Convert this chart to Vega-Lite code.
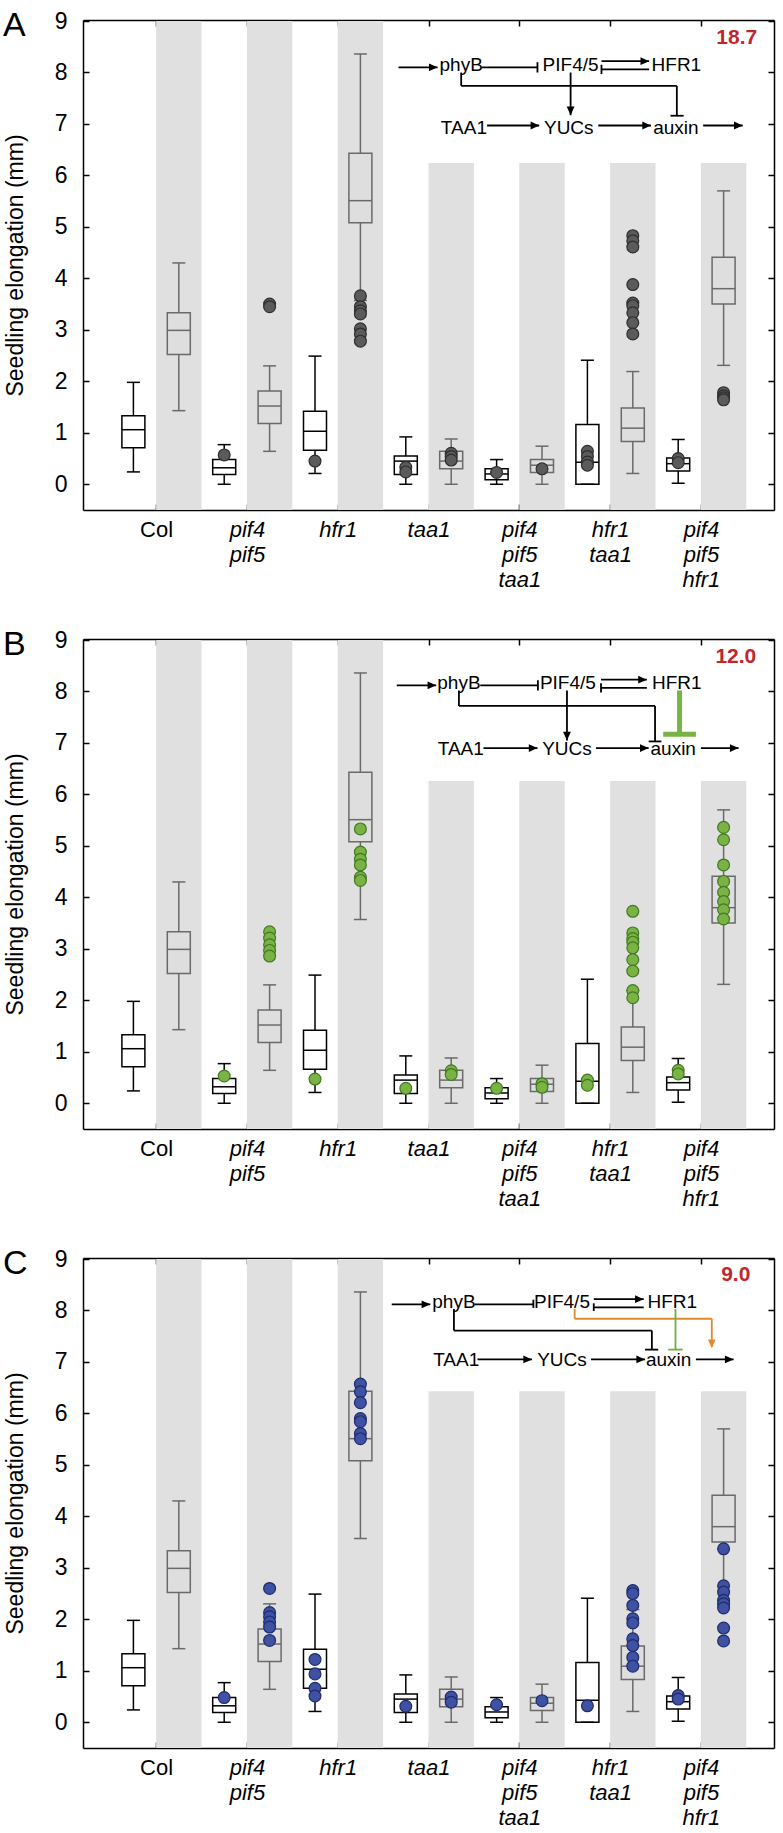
{
"$schema": "https://vega.github.io/schema/vega-lite/v6.json",
"background": "white",
"padding": {"left": 3, "top": 9, "right": 2, "bottom": 0},
"bounds": "flush",
"spacing": 129,
"config": {
 "font": "Liberation Sans",
 "view": {"stroke": null},
 "axis": {"grid": false, "domainColor": "#000", "domainWidth": 1.5, "tickColor": "#000", "tickWidth": 1.5, "labelColor": "#000", "titleColor": "#000", "labelFont": "Liberation Sans", "titleFont": "Liberation Sans", "zindex": 1},
 "tick": {"opacity": 1},
 "point": {"opacity": 1},
 "circle": {"opacity": 1}
},
"datasets": {
 "boxes": [
  {"pos":0.5,"cond":"W","lo":0.24,"q1":0.71,"med":1.06,"q3":1.33,"hi":1.98},
  {"pos":1.5,"cond":"S","lo":1.43,"q1":2.52,"med":2.99,"q3":3.33,"hi":4.30},
  {"pos":2.5,"cond":"W","lo":0.0,"q1":0.19,"med":0.32,"q3":0.48,"hi":0.77},
  {"pos":3.5,"cond":"S","lo":0.64,"q1":1.18,"med":1.52,"q3":1.81,"hi":2.30},
  {"pos":4.5,"cond":"W","lo":0.21,"q1":0.66,"med":1.03,"q3":1.42,"hi":2.49},
  {"pos":5.5,"cond":"S","lo":3.57,"q1":5.08,"med":5.51,"q3":6.43,"hi":8.36},
  {"pos":6.5,"cond":"W","lo":0.0,"q1":0.19,"med":0.45,"q3":0.55,"hi":0.92},
  {"pos":7.5,"cond":"S","lo":0.0,"q1":0.30,"med":0.45,"q3":0.64,"hi":0.88},
  {"pos":8.5,"cond":"W","lo":0.0,"q1":0.09,"med":0.20,"q3":0.30,"hi":0.48},
  {"pos":9.5,"cond":"S","lo":0.0,"q1":0.23,"med":0.37,"q3":0.48,"hi":0.74},
  {"pos":10.5,"cond":"W","lo":0.0,"q1":0.0,"med":0.43,"q3":1.16,"hi":2.41},
  {"pos":11.5,"cond":"S","lo":0.21,"q1":0.83,"med":1.09,"q3":1.48,"hi":2.19},
  {"pos":12.5,"cond":"W","lo":0.02,"q1":0.26,"med":0.40,"q3":0.51,"hi":0.87},
  {"pos":13.5,"cond":"S","lo":2.31,"q1":3.50,"med":3.80,"q3":4.41,"hi":5.70}
 ],
 "bands": [
  {"panel":"A","x1":1,"x2":2,"top":9.0},{"panel":"A","x1":3,"x2":4,"top":9.0},{"panel":"A","x1":5,"x2":6,"top":9.0},
  {"panel":"A","x1":7,"x2":8,"top":6.24},{"panel":"A","x1":9,"x2":10,"top":6.24},{"panel":"A","x1":11,"x2":12,"top":6.24},{"panel":"A","x1":13,"x2":14,"top":6.24},
  {"panel":"B","x1":1,"x2":2,"top":9.0},{"panel":"B","x1":3,"x2":4,"top":9.0},{"panel":"B","x1":5,"x2":6,"top":9.0},
  {"panel":"B","x1":7,"x2":8,"top":6.26},{"panel":"B","x1":9,"x2":10,"top":6.26},{"panel":"B","x1":11,"x2":12,"top":6.26},{"panel":"B","x1":13,"x2":14,"top":6.26},
  {"panel":"C","x1":1,"x2":2,"top":9.0},{"panel":"C","x1":3,"x2":4,"top":9.0},{"panel":"C","x1":5,"x2":6,"top":9.0},
  {"panel":"C","x1":7,"x2":8,"top":6.43},{"panel":"C","x1":9,"x2":10,"top":6.43},{"panel":"C","x1":11,"x2":12,"top":6.43},{"panel":"C","x1":13,"x2":14,"top":6.43}
 ],
 "pts": [
  {"panel":"A","pos":2.5,"v":0.57},
  {"panel":"A","pos":3.5,"v":3.5},{"panel":"A","pos":3.5,"v":3.45},
  {"panel":"A","pos":4.5,"v":0.45},
  {"panel":"A","pos":5.5,"v":3.66},{"panel":"A","pos":5.5,"v":3.45},{"panel":"A","pos":5.5,"v":3.37},{"panel":"A","pos":5.5,"v":3.31},{"panel":"A","pos":5.5,"v":3.02},{"panel":"A","pos":5.5,"v":2.92},{"panel":"A","pos":5.5,"v":2.78},
  {"panel":"A","pos":6.5,"v":0.33},{"panel":"A","pos":6.5,"v":0.24},
  {"panel":"A","pos":7.5,"v":0.6},{"panel":"A","pos":7.5,"v":0.54},{"panel":"A","pos":7.5,"v":0.47},
  {"panel":"A","pos":8.5,"v":0.23},
  {"panel":"A","pos":9.5,"v":0.3},
  {"panel":"A","pos":10.5,"v":0.64},{"panel":"A","pos":10.5,"v":0.54},{"panel":"A","pos":10.5,"v":0.43},{"panel":"A","pos":10.5,"v":0.37},
  {"panel":"A","pos":11.5,"v":4.83},{"panel":"A","pos":11.5,"v":4.73},{"panel":"A","pos":11.5,"v":4.61},{"panel":"A","pos":11.5,"v":3.88},{"panel":"A","pos":11.5,"v":3.52},{"panel":"A","pos":11.5,"v":3.47},{"panel":"A","pos":11.5,"v":3.33},{"panel":"A","pos":11.5,"v":3.14},{"panel":"A","pos":11.5,"v":2.92},
  {"panel":"A","pos":12.5,"v":0.5},{"panel":"A","pos":12.5,"v":0.42},
  {"panel":"A","pos":13.5,"v":1.78},{"panel":"A","pos":13.5,"v":1.72},{"panel":"A","pos":13.5,"v":1.68},{"panel":"A","pos":13.5,"v":1.64},
  {"panel":"B","pos":2.5,"v":0.53},
  {"panel":"B","pos":3.5,"v":3.33},{"panel":"B","pos":3.5,"v":3.21},{"panel":"B","pos":3.5,"v":3.08},{"panel":"B","pos":3.5,"v":2.97},{"panel":"B","pos":3.5,"v":2.86},
  {"panel":"B","pos":4.5,"v":0.47},
  {"panel":"B","pos":5.5,"v":5.33},{"panel":"B","pos":5.5,"v":4.88},{"panel":"B","pos":5.5,"v":4.74},{"panel":"B","pos":5.5,"v":4.63},{"panel":"B","pos":5.5,"v":4.39},{"panel":"B","pos":5.5,"v":4.33},
  {"panel":"B","pos":6.5,"v":0.29},
  {"panel":"B","pos":7.5,"v":0.63},{"panel":"B","pos":7.5,"v":0.56},
  {"panel":"B","pos":8.5,"v":0.29},
  {"panel":"B","pos":9.5,"v":0.38},{"panel":"B","pos":9.5,"v":0.31},
  {"panel":"B","pos":10.5,"v":0.45},{"panel":"B","pos":10.5,"v":0.35},
  {"panel":"B","pos":11.5,"v":3.73},{"panel":"B","pos":11.5,"v":3.31},{"panel":"B","pos":11.5,"v":3.2},{"panel":"B","pos":11.5,"v":3.13},{"panel":"B","pos":11.5,"v":3.02},{"panel":"B","pos":11.5,"v":2.79},{"panel":"B","pos":11.5,"v":2.57},{"panel":"B","pos":11.5,"v":2.19},{"panel":"B","pos":11.5,"v":2.05},
  {"panel":"B","pos":12.5,"v":0.64},{"panel":"B","pos":12.5,"v":0.57},
  {"panel":"B","pos":13.5,"v":5.36},{"panel":"B","pos":13.5,"v":5.12},{"panel":"B","pos":13.5,"v":4.63},{"panel":"B","pos":13.5,"v":4.31},{"panel":"B","pos":13.5,"v":4.1},{"panel":"B","pos":13.5,"v":3.92},{"panel":"B","pos":13.5,"v":3.76},{"panel":"B","pos":13.5,"v":3.58},
  {"panel":"C","pos":2.5,"v":0.48},
  {"panel":"C","pos":3.5,"v":2.6},{"panel":"C","pos":3.5,"v":2.13},{"panel":"C","pos":3.5,"v":2.05},{"panel":"C","pos":3.5,"v":1.95},{"panel":"C","pos":3.5,"v":1.85},{"panel":"C","pos":3.5,"v":1.59},
  {"panel":"C","pos":4.5,"v":1.22},{"panel":"C","pos":4.5,"v":0.94},{"panel":"C","pos":4.5,"v":0.66},{"panel":"C","pos":4.5,"v":0.51},
  {"panel":"C","pos":5.5,"v":6.57},{"panel":"C","pos":5.5,"v":6.42},{"panel":"C","pos":5.5,"v":6.21},{"panel":"C","pos":5.5,"v":5.9},{"panel":"C","pos":5.5,"v":5.84},{"panel":"C","pos":5.5,"v":5.61},{"panel":"C","pos":5.5,"v":5.51},
  {"panel":"C","pos":6.5,"v":0.31},
  {"panel":"C","pos":7.5,"v":0.49},{"panel":"C","pos":7.5,"v":0.39},
  {"panel":"C","pos":8.5,"v":0.34},
  {"panel":"C","pos":9.5,"v":0.42},
  {"panel":"C","pos":10.5,"v":0.32},
  {"panel":"C","pos":11.5,"v":2.56},{"panel":"C","pos":11.5,"v":2.5},{"panel":"C","pos":11.5,"v":2.27},{"panel":"C","pos":11.5,"v":2.01},{"panel":"C","pos":11.5,"v":1.93},{"panel":"C","pos":11.5,"v":1.62},{"panel":"C","pos":11.5,"v":1.49},{"panel":"C","pos":11.5,"v":1.26},{"panel":"C","pos":11.5,"v":1.09},
  {"panel":"C","pos":12.5,"v":0.52},{"panel":"C","pos":12.5,"v":0.45},
  {"panel":"C","pos":13.5,"v":3.37},{"panel":"C","pos":13.5,"v":2.65},{"panel":"C","pos":13.5,"v":2.53},{"panel":"C","pos":13.5,"v":2.37},{"panel":"C","pos":13.5,"v":2.3},{"panel":"C","pos":13.5,"v":2.22},{"panel":"C","pos":13.5,"v":1.83},{"panel":"C","pos":13.5,"v":1.58}
 ],
 "segs": [
  {"panel":"A","kind":"k","x":6.34,"y":8.10,"x2":7.20,"y2":8.10},
  {"panel":"A","kind":"k","x":8.18,"y":8.10,"x2":9.40,"y2":8.10},
  {"panel":"A","kind":"k","x":9.40,"y":8.20,"x2":9.40,"y2":8.00},
  {"panel":"A","kind":"k","x":10.81,"y":8.22,"x2":11.86,"y2":8.22},
  {"panel":"A","kind":"k","x":10.81,"y":8.06,"x2":11.86,"y2":8.06},
  {"panel":"A","kind":"k","x":10.81,"y":8.15,"x2":10.81,"y2":7.97},
  {"panel":"A","kind":"k","x":7.72,"y":8.00,"x2":7.72,"y2":7.74},
  {"panel":"A","kind":"k","x":7.72,"y":7.74,"x2":12.47,"y2":7.74},
  {"panel":"A","kind":"k","x":12.47,"y":7.74,"x2":12.47,"y2":7.16},
  {"panel":"A","kind":"k","x":12.33,"y":7.16,"x2":12.62,"y2":7.16},
  {"panel":"A","kind":"k","x":10.13,"y":8.00,"x2":10.13,"y2":7.17},
  {"panel":"A","kind":"k","x":8.29,"y":6.97,"x2":9.44,"y2":6.97},
  {"panel":"A","kind":"k","x":10.74,"y":6.97,"x2":11.90,"y2":6.97},
  {"panel":"A","kind":"k","x":13.05,"y":6.97,"x2":13.92,"y2":6.97},
  {"panel":"B","kind":"k","x":6.30,"y":8.12,"x2":7.17,"y2":8.12},
  {"panel":"B","kind":"k","x":8.14,"y":8.12,"x2":9.41,"y2":8.12},
  {"panel":"B","kind":"k","x":9.41,"y":8.22,"x2":9.41,"y2":8.02},
  {"panel":"B","kind":"k","x":10.80,"y":8.23,"x2":11.81,"y2":8.23},
  {"panel":"B","kind":"k","x":10.80,"y":8.07,"x2":11.81,"y2":8.07},
  {"panel":"B","kind":"k","x":10.80,"y":8.16,"x2":10.80,"y2":7.98},
  {"panel":"B","kind":"k","x":7.67,"y":8.02,"x2":7.67,"y2":7.72},
  {"panel":"B","kind":"k","x":7.67,"y":7.72,"x2":11.99,"y2":7.72},
  {"panel":"B","kind":"k","x":11.99,"y":7.72,"x2":11.99,"y2":7.03},
  {"panel":"B","kind":"k","x":11.85,"y":7.03,"x2":12.13,"y2":7.03},
  {"panel":"B","kind":"k","x":10.05,"y":8.02,"x2":10.05,"y2":7.05},
  {"panel":"B","kind":"k","x":8.21,"y":6.90,"x2":9.40,"y2":6.90},
  {"panel":"B","kind":"k","x":10.69,"y":6.90,"x2":11.85,"y2":6.90},
  {"panel":"B","kind":"k","x":13.00,"y":6.90,"x2":13.83,"y2":6.90},
  {"panel":"B","kind":"gt","x":12.53,"y":8.02,"x2":12.53,"y2":7.17},
  {"panel":"B","kind":"gt","x":12.17,"y":7.17,"x2":12.89,"y2":7.17},
  {"panel":"C","kind":"k","x":6.19,"y":8.12,"x2":7.04,"y2":8.12},
  {"panel":"C","kind":"k","x":8.01,"y":8.12,"x2":9.31,"y2":8.12},
  {"panel":"C","kind":"k","x":9.31,"y":8.21,"x2":9.31,"y2":8.05},
  {"panel":"C","kind":"k","x":10.64,"y":8.22,"x2":11.74,"y2":8.22},
  {"panel":"C","kind":"k","x":10.64,"y":8.06,"x2":11.74,"y2":8.06},
  {"panel":"C","kind":"k","x":10.64,"y":8.14,"x2":10.64,"y2":7.99},
  {"panel":"C","kind":"k","x":7.56,"y":8.03,"x2":7.56,"y2":7.61},
  {"panel":"C","kind":"k","x":7.56,"y":7.61,"x2":11.92,"y2":7.61},
  {"panel":"C","kind":"k","x":11.92,"y":7.61,"x2":11.92,"y2":7.24},
  {"panel":"C","kind":"k","x":11.77,"y":7.24,"x2":12.06,"y2":7.24},
  {"panel":"C","kind":"k","x":8.08,"y":7.05,"x2":9.28,"y2":7.05},
  {"panel":"C","kind":"k","x":10.58,"y":7.05,"x2":11.77,"y2":7.05},
  {"panel":"C","kind":"k","x":12.89,"y":7.05,"x2":13.72,"y2":7.05},
  {"panel":"C","kind":"o","x":10.22,"y":8.03,"x2":10.22,"y2":7.84},
  {"panel":"C","kind":"o","x":10.22,"y":7.84,"x2":13.24,"y2":7.84},
  {"panel":"C","kind":"o","x":13.24,"y":7.84,"x2":13.24,"y2":7.29},
  {"panel":"C","kind":"g","x":12.44,"y":8.03,"x2":12.44,"y2":7.24},
  {"panel":"C","kind":"g","x":12.28,"y":7.24,"x2":12.60,"y2":7.24}
 ],
 "heads": [
  {"panel":"A","kind":"k","dir":"r","x":7.20,"y":8.10},
  {"panel":"A","kind":"k","dir":"r","x":11.86,"y":8.22},
  {"panel":"A","kind":"k","dir":"r","x":9.44,"y":6.97},
  {"panel":"A","kind":"k","dir":"r","x":11.90,"y":6.97},
  {"panel":"A","kind":"k","dir":"r","x":13.92,"y":6.97},
  {"panel":"A","kind":"k","dir":"d","x":10.13,"y":7.17},
  {"panel":"B","kind":"k","dir":"r","x":7.17,"y":8.12},
  {"panel":"B","kind":"k","dir":"r","x":11.81,"y":8.23},
  {"panel":"B","kind":"k","dir":"r","x":9.40,"y":6.90},
  {"panel":"B","kind":"k","dir":"r","x":11.85,"y":6.90},
  {"panel":"B","kind":"k","dir":"r","x":13.83,"y":6.90},
  {"panel":"B","kind":"k","dir":"d","x":10.05,"y":7.05},
  {"panel":"C","kind":"k","dir":"r","x":7.04,"y":8.12},
  {"panel":"C","kind":"k","dir":"r","x":11.74,"y":8.22},
  {"panel":"C","kind":"k","dir":"r","x":9.28,"y":7.05},
  {"panel":"C","kind":"k","dir":"r","x":11.77,"y":7.05},
  {"panel":"C","kind":"k","dir":"r","x":13.72,"y":7.05},
  {"panel":"C","kind":"o","dir":"d","x":13.24,"y":7.27}
 ],
 "texts": [
  {"panel":"A","label":"phyB","x":7.72,"y":8.03},
  {"panel":"A","label":"PIF4/5","x":10.13,"y":8.03},
  {"panel":"A","label":"HFR1","x":12.46,"y":8.03},
  {"panel":"A","label":"TAA1","x":7.78,"y":6.81},
  {"panel":"A","label":"YUCs","x":10.09,"y":6.81},
  {"panel":"A","label":"auxin","x":12.45,"y":6.81},
  {"panel":"B","label":"phyB","x":7.67,"y":8.04},
  {"panel":"B","label":"PIF4/5","x":10.07,"y":8.04},
  {"panel":"B","label":"HFR1","x":12.47,"y":8.04},
  {"panel":"B","label":"TAA1","x":7.71,"y":6.76},
  {"panel":"B","label":"YUCs","x":10.05,"y":6.76},
  {"panel":"B","label":"auxin","x":12.39,"y":6.76},
  {"panel":"C","label":"phyB","x":7.56,"y":8.05},
  {"panel":"C","label":"PIF4/5","x":9.94,"y":8.05},
  {"panel":"C","label":"HFR1","x":12.37,"y":8.05},
  {"panel":"C","label":"TAA1","x":7.61,"y":6.93},
  {"panel":"C","label":"YUCs","x":9.94,"y":6.93},
  {"panel":"C","label":"auxin","x":12.29,"y":6.93}
 ]
},
"vconcat": [
 {
  "width": 691, "height": 490,
  "resolve": {"axis": {"x": "independent", "y": "independent"}, "scale": {"color": "independent", "fill": "independent", "stroke": "independent"}},
  "layer": [
   {"data": {"name": "bands"}, "transform": [{"filter": "datum.panel=='A'"}],
    "mark": {"type": "rect", "fill": "#e0e0e0"},
    "encoding": {
     "x": {"field": "x1", "type": "quantitative", "scale": {"domain": [-0.5, 14.5], "nice": false, "zero": false},
       "axis": {"orient": "bottom", "values": [1,3,5,7,9,11,13], "labelExpr": "datum.value == 1 ? 'Col' : datum.value == 3 ? ['pif4', 'pif5'] : datum.value == 5 ? 'hfr1' : datum.value == 7 ? 'taa1' : datum.value == 9 ? ['pif4', 'pif5', 'taa1'] : datum.value == 11 ? ['hfr1', 'taa1'] : ['pif4', 'pif5', 'hfr1']",
        "labelFontSize": 22, "labelFontStyle": {"condition": {"test": "datum.value == 1", "value": "normal"}, "value": "italic"}, "labelBaseline": "top", "labelLineHeight": 25, "labelPadding": 15, "labelOverlap": false, "labelFlush": false, "labelBound": false, "tickSize": -6, "domain": true, "title": null}},
     "x2": {"field": "x2"},
     "y": {"field": "top", "type": "quantitative", "scale": {"domain": [-0.5, 9.02], "nice": false, "zero": false},
       "axis": {"orient": "left", "values": [0,1,2,3,4,5,6,7,8,9], "format": "d", "labelFontSize": 23, "labelPadding": 22, "tickSize": -6, "domain": true, "title": "Seedling elongation (mm)", "titleFontSize": 23, "titleFontWeight": "normal", "titlePadding": 27, "labelFlush": false, "labelOverlap": false}},
     "y2": {"datum": -0.5}
    }},
   {"data": {"name": "boxes"}, "mark": {"type": "rule", "strokeWidth": 1.5},
    "encoding": {"x": {"field": "pos", "type": "quantitative", "scale": {"domain": [-0.5, 14.5]}, "axis": null},
     "y": {"field": "lo", "type": "quantitative", "scale": {"domain": [-0.5, 9.02]}, "axis": null}, "y2": {"field": "hi"},
     "color": {"field": "cond", "type": "nominal", "scale": {"domain": ["W","S"], "range": ["#000000","#6a6a6a"]}, "legend": null}}},
   {"data": {"name": "boxes"}, "mark": {"type": "bar", "size": 23, "strokeWidth": 1.5},
    "encoding": {"x": {"field": "pos", "type": "quantitative", "scale": {"domain": [-0.5, 14.5]}, "axis": null},
     "y": {"field": "q1", "type": "quantitative", "scale": {"domain": [-0.5, 9.02]}, "axis": null}, "y2": {"field": "q3"},
     "fill": {"field": "cond", "type": "nominal", "scale": {"domain": ["W","S"], "range": ["#ffffff","#dedede"]}, "legend": null},
     "stroke": {"field": "cond", "type": "nominal", "scale": {"domain": ["W","S"], "range": ["#000000","#6a6a6a"]}, "legend": null}}},
   {"data": {"name": "boxes"}, "mark": {"type": "tick", "orient": "horizontal", "size": 23, "thickness": 1.5, "opacity": 1},
    "encoding": {"x": {"field": "pos", "type": "quantitative", "scale": {"domain": [-0.5, 14.5]}, "axis": null},
     "y": {"field": "med", "type": "quantitative", "scale": {"domain": [-0.5, 9.02]}, "axis": null},
     "color": {"field": "cond", "type": "nominal", "scale": {"domain": ["W","S"], "range": ["#000000","#6a6a6a"]}, "legend": null}}},
   {"data": {"name": "boxes"}, "mark": {"type": "tick", "orient": "horizontal", "size": 13, "thickness": 1.5, "opacity": 1},
    "encoding": {"x": {"field": "pos", "type": "quantitative", "scale": {"domain": [-0.5, 14.5]}, "axis": null},
     "y": {"field": "lo", "type": "quantitative", "scale": {"domain": [-0.5, 9.02]}, "axis": null},
     "color": {"field": "cond", "type": "nominal", "scale": {"domain": ["W","S"], "range": ["#000000","#6a6a6a"]}, "legend": null}}},
   {"data": {"name": "boxes"}, "mark": {"type": "tick", "orient": "horizontal", "size": 13, "thickness": 1.5, "opacity": 1},
    "encoding": {"x": {"field": "pos", "type": "quantitative", "scale": {"domain": [-0.5, 14.5]}, "axis": null},
     "y": {"field": "hi", "type": "quantitative", "scale": {"domain": [-0.5, 9.02]}, "axis": null},
     "color": {"field": "cond", "type": "nominal", "scale": {"domain": ["W","S"], "range": ["#000000","#6a6a6a"]}, "legend": null}}},
   {"data": {"name": "pts"}, "transform": [{"filter": "datum.panel=='A'"}],
    "mark": {"type": "circle", "size": 140, "fill": "#5b5b5b", "stroke": "#2e2e2e", "strokeWidth": 1.2, "opacity": 1},
    "encoding": {"x": {"field": "pos", "type": "quantitative", "scale": {"domain": [-0.5, 14.5]}, "axis": null},
     "y": {"field": "v", "type": "quantitative", "scale": {"domain": [-0.5, 9.02]}, "axis": null}}},
   {"data": {"name": "segs"}, "transform": [{"filter": "datum.panel=='A' && datum.kind != 'gt'"}],
    "mark": {"type": "rule", "strokeWidth": 1.8},
    "encoding": {"x": {"field": "x", "type": "quantitative", "scale": {"domain": [-0.5, 14.5]},
       "axis": {"orient": "top", "values": [1,3,5,7,9,11,13], "labels": false, "tickSize": -6, "domain": true, "title": null}},
     "x2": {"field": "x2"},
     "y": {"field": "y", "type": "quantitative", "scale": {"domain": [-0.5, 9.02]},
       "axis": {"orient": "right", "values": [0,1,2,3,4,5,6,7,8,9], "labels": false, "tickSize": -6, "domain": true, "title": null}},
     "y2": {"field": "y2"},
     "color": {"field": "kind", "type": "nominal", "scale": {"domain": ["k","o","g"], "range": ["#000000","#e08a2b","#6cb13a"]}, "legend": null}}},
   {"data": {"name": "heads"}, "transform": [{"filter": "datum.panel=='A' && datum.dir=='r'"}],
    "mark": {"type": "point", "shape": "M-1,-0.45L0,0L-1,0.45Z", "filled": true, "size": 300, "opacity": 1},
    "encoding": {"x": {"field": "x", "type": "quantitative", "scale": {"domain": [-0.5, 14.5]}, "axis": null},
     "y": {"field": "y", "type": "quantitative", "scale": {"domain": [-0.5, 9.02]}, "axis": null},
     "color": {"field": "kind", "type": "nominal", "scale": {"domain": ["k","o","g"], "range": ["#000000","#e08a2b","#6cb13a"]}, "legend": null}}},
   {"data": {"name": "heads"}, "transform": [{"filter": "datum.panel=='A' && datum.dir=='d'"}],
    "mark": {"type": "point", "shape": "M-0.45,-1L0,0L0.45,-1Z", "filled": true, "size": 300, "opacity": 1},
    "encoding": {"x": {"field": "x", "type": "quantitative", "scale": {"domain": [-0.5, 14.5]}, "axis": null},
     "y": {"field": "y", "type": "quantitative", "scale": {"domain": [-0.5, 9.02]}, "axis": null},
     "color": {"field": "kind", "type": "nominal", "scale": {"domain": ["k","o","g"], "range": ["#000000","#e08a2b","#6cb13a"]}, "legend": null}}},
   {"data": {"name": "texts"}, "transform": [{"filter": "datum.panel=='A'"}],
    "mark": {"type": "text", "fontSize": 19, "align": "center", "baseline": "alphabetic", "color": "#000"},
    "encoding": {"x": {"field": "x", "type": "quantitative", "scale": {"domain": [-0.5, 14.5]}, "axis": null},
     "y": {"field": "y", "type": "quantitative", "scale": {"domain": [-0.5, 9.02]}, "axis": null},
     "text": {"field": "label"}}},
   {"data": {"values": [{}]},
    "mark": {"type": "text", "fontSize": 21, "fontWeight": "bold", "align": "right", "baseline": "alphabetic", "color": "#c0272d"},
    "encoding": {"x": {"datum": 14.24, "type": "quantitative", "scale": {"domain": [-0.5, 14.5]}, "axis": null},
     "y": {"datum": 8.55, "type": "quantitative", "scale": {"domain": [-0.5, 9.02]}, "axis": null},
     "text": {"value": "18.7"}}},
   {"data": {"values": [{}]},
    "mark": {"type": "text", "fontSize": 34, "align": "left", "baseline": "alphabetic", "color": "#000"},
    "encoding": {"x": {"datum": -2.37, "type": "quantitative", "scale": {"domain": [-0.5, 14.5]}, "axis": null},
     "y": {"datum": 8.70, "type": "quantitative", "scale": {"domain": [-0.5, 9.02]}, "axis": null},
     "text": {"value": "A"}}}
  ]
 },
 {
  "width": 691, "height": 490,
  "resolve": {"axis": {"x": "independent", "y": "independent"}, "scale": {"color": "independent", "fill": "independent", "stroke": "independent"}},
  "layer": [
   {"data": {"name": "bands"}, "transform": [{"filter": "datum.panel=='B'"}],
    "mark": {"type": "rect", "fill": "#e0e0e0"},
    "encoding": {
     "x": {"field": "x1", "type": "quantitative", "scale": {"domain": [-0.5, 14.5], "nice": false, "zero": false},
       "axis": {"orient": "bottom", "values": [1,3,5,7,9,11,13], "labelExpr": "datum.value == 1 ? 'Col' : datum.value == 3 ? ['pif4', 'pif5'] : datum.value == 5 ? 'hfr1' : datum.value == 7 ? 'taa1' : datum.value == 9 ? ['pif4', 'pif5', 'taa1'] : datum.value == 11 ? ['hfr1', 'taa1'] : ['pif4', 'pif5', 'hfr1']",
        "labelFontSize": 22, "labelFontStyle": {"condition": {"test": "datum.value == 1", "value": "normal"}, "value": "italic"}, "labelBaseline": "top", "labelLineHeight": 25, "labelPadding": 15, "labelOverlap": false, "labelFlush": false, "labelBound": false, "tickSize": -6, "domain": true, "title": null}},
     "x2": {"field": "x2"},
     "y": {"field": "top", "type": "quantitative", "scale": {"domain": [-0.5, 9.02], "nice": false, "zero": false},
       "axis": {"orient": "left", "values": [0,1,2,3,4,5,6,7,8,9], "format": "d", "labelFontSize": 23, "labelPadding": 22, "tickSize": -6, "domain": true, "title": "Seedling elongation (mm)", "titleFontSize": 23, "titleFontWeight": "normal", "titlePadding": 27, "labelFlush": false, "labelOverlap": false}},
     "y2": {"datum": -0.5}
    }},
   {"data": {"name": "boxes"}, "mark": {"type": "rule", "strokeWidth": 1.5},
    "encoding": {"x": {"field": "pos", "type": "quantitative", "scale": {"domain": [-0.5, 14.5]}, "axis": null},
     "y": {"field": "lo", "type": "quantitative", "scale": {"domain": [-0.5, 9.02]}, "axis": null}, "y2": {"field": "hi"},
     "color": {"field": "cond", "type": "nominal", "scale": {"domain": ["W","S"], "range": ["#000000","#6a6a6a"]}, "legend": null}}},
   {"data": {"name": "boxes"}, "mark": {"type": "bar", "size": 23, "strokeWidth": 1.5},
    "encoding": {"x": {"field": "pos", "type": "quantitative", "scale": {"domain": [-0.5, 14.5]}, "axis": null},
     "y": {"field": "q1", "type": "quantitative", "scale": {"domain": [-0.5, 9.02]}, "axis": null}, "y2": {"field": "q3"},
     "fill": {"field": "cond", "type": "nominal", "scale": {"domain": ["W","S"], "range": ["#ffffff","#dedede"]}, "legend": null},
     "stroke": {"field": "cond", "type": "nominal", "scale": {"domain": ["W","S"], "range": ["#000000","#6a6a6a"]}, "legend": null}}},
   {"data": {"name": "boxes"}, "mark": {"type": "tick", "orient": "horizontal", "size": 23, "thickness": 1.5, "opacity": 1},
    "encoding": {"x": {"field": "pos", "type": "quantitative", "scale": {"domain": [-0.5, 14.5]}, "axis": null},
     "y": {"field": "med", "type": "quantitative", "scale": {"domain": [-0.5, 9.02]}, "axis": null},
     "color": {"field": "cond", "type": "nominal", "scale": {"domain": ["W","S"], "range": ["#000000","#6a6a6a"]}, "legend": null}}},
   {"data": {"name": "boxes"}, "mark": {"type": "tick", "orient": "horizontal", "size": 13, "thickness": 1.5, "opacity": 1},
    "encoding": {"x": {"field": "pos", "type": "quantitative", "scale": {"domain": [-0.5, 14.5]}, "axis": null},
     "y": {"field": "lo", "type": "quantitative", "scale": {"domain": [-0.5, 9.02]}, "axis": null},
     "color": {"field": "cond", "type": "nominal", "scale": {"domain": ["W","S"], "range": ["#000000","#6a6a6a"]}, "legend": null}}},
   {"data": {"name": "boxes"}, "mark": {"type": "tick", "orient": "horizontal", "size": 13, "thickness": 1.5, "opacity": 1},
    "encoding": {"x": {"field": "pos", "type": "quantitative", "scale": {"domain": [-0.5, 14.5]}, "axis": null},
     "y": {"field": "hi", "type": "quantitative", "scale": {"domain": [-0.5, 9.02]}, "axis": null},
     "color": {"field": "cond", "type": "nominal", "scale": {"domain": ["W","S"], "range": ["#000000","#6a6a6a"]}, "legend": null}}},
   {"data": {"name": "pts"}, "transform": [{"filter": "datum.panel=='B'"}],
    "mark": {"type": "circle", "size": 140, "fill": "#7ab344", "stroke": "#3f7a22", "strokeWidth": 1.2, "opacity": 1},
    "encoding": {"x": {"field": "pos", "type": "quantitative", "scale": {"domain": [-0.5, 14.5]}, "axis": null},
     "y": {"field": "v", "type": "quantitative", "scale": {"domain": [-0.5, 9.02]}, "axis": null}}},
   {"data": {"name": "segs"}, "transform": [{"filter": "datum.panel=='B' && datum.kind != 'gt'"}],
    "mark": {"type": "rule", "strokeWidth": 1.8},
    "encoding": {"x": {"field": "x", "type": "quantitative", "scale": {"domain": [-0.5, 14.5]},
       "axis": {"orient": "top", "values": [1,3,5,7,9,11,13], "labels": false, "tickSize": -6, "domain": true, "title": null}},
     "x2": {"field": "x2"},
     "y": {"field": "y", "type": "quantitative", "scale": {"domain": [-0.5, 9.02]},
       "axis": {"orient": "right", "values": [0,1,2,3,4,5,6,7,8,9], "labels": false, "tickSize": -6, "domain": true, "title": null}},
     "y2": {"field": "y2"},
     "color": {"field": "kind", "type": "nominal", "scale": {"domain": ["k","o","g"], "range": ["#000000","#e08a2b","#6cb13a"]}, "legend": null}}},
   {"data": {"name": "segs"}, "transform": [{"filter": "datum.panel=='B' && datum.kind == 'gt'"}],
    "mark": {"type": "rule", "strokeWidth": 5, "color": "#77b443"},
    "encoding": {"x": {"field": "x", "type": "quantitative", "scale": {"domain": [-0.5, 14.5]}, "axis": null},
     "x2": {"field": "x2"},
     "y": {"field": "y", "type": "quantitative", "scale": {"domain": [-0.5, 9.02]}, "axis": null},
     "y2": {"field": "y2"}}},
   {"data": {"name": "heads"}, "transform": [{"filter": "datum.panel=='B' && datum.dir=='r'"}],
    "mark": {"type": "point", "shape": "M-1,-0.45L0,0L-1,0.45Z", "filled": true, "size": 300, "opacity": 1},
    "encoding": {"x": {"field": "x", "type": "quantitative", "scale": {"domain": [-0.5, 14.5]}, "axis": null},
     "y": {"field": "y", "type": "quantitative", "scale": {"domain": [-0.5, 9.02]}, "axis": null},
     "color": {"field": "kind", "type": "nominal", "scale": {"domain": ["k","o","g"], "range": ["#000000","#e08a2b","#6cb13a"]}, "legend": null}}},
   {"data": {"name": "heads"}, "transform": [{"filter": "datum.panel=='B' && datum.dir=='d'"}],
    "mark": {"type": "point", "shape": "M-0.45,-1L0,0L0.45,-1Z", "filled": true, "size": 300, "opacity": 1},
    "encoding": {"x": {"field": "x", "type": "quantitative", "scale": {"domain": [-0.5, 14.5]}, "axis": null},
     "y": {"field": "y", "type": "quantitative", "scale": {"domain": [-0.5, 9.02]}, "axis": null},
     "color": {"field": "kind", "type": "nominal", "scale": {"domain": ["k","o","g"], "range": ["#000000","#e08a2b","#6cb13a"]}, "legend": null}}},
   {"data": {"name": "texts"}, "transform": [{"filter": "datum.panel=='B'"}],
    "mark": {"type": "text", "fontSize": 19, "align": "center", "baseline": "alphabetic", "color": "#000"},
    "encoding": {"x": {"field": "x", "type": "quantitative", "scale": {"domain": [-0.5, 14.5]}, "axis": null},
     "y": {"field": "y", "type": "quantitative", "scale": {"domain": [-0.5, 9.02]}, "axis": null},
     "text": {"field": "label"}}},
   {"data": {"values": [{}]},
    "mark": {"type": "text", "fontSize": 21, "fontWeight": "bold", "align": "right", "baseline": "alphabetic", "color": "#c0272d"},
    "encoding": {"x": {"datum": 14.22, "type": "quantitative", "scale": {"domain": [-0.5, 14.5]}, "axis": null},
     "y": {"datum": 8.56, "type": "quantitative", "scale": {"domain": [-0.5, 9.02]}, "axis": null},
     "text": {"value": "12.0"}}},
   {"data": {"values": [{}]},
    "mark": {"type": "text", "fontSize": 34, "align": "left", "baseline": "alphabetic", "color": "#000"},
    "encoding": {"x": {"datum": -2.37, "type": "quantitative", "scale": {"domain": [-0.5, 14.5]}, "axis": null},
     "y": {"datum": 8.70, "type": "quantitative", "scale": {"domain": [-0.5, 9.02]}, "axis": null},
     "text": {"value": "B"}}}
  ]
 },
 {
  "width": 691, "height": 490,
  "resolve": {"axis": {"x": "independent", "y": "independent"}, "scale": {"color": "independent", "fill": "independent", "stroke": "independent"}},
  "layer": [
   {"data": {"name": "bands"}, "transform": [{"filter": "datum.panel=='C'"}],
    "mark": {"type": "rect", "fill": "#e0e0e0"},
    "encoding": {
     "x": {"field": "x1", "type": "quantitative", "scale": {"domain": [-0.5, 14.5], "nice": false, "zero": false},
       "axis": {"orient": "bottom", "values": [1,3,5,7,9,11,13], "labelExpr": "datum.value == 1 ? 'Col' : datum.value == 3 ? ['pif4', 'pif5'] : datum.value == 5 ? 'hfr1' : datum.value == 7 ? 'taa1' : datum.value == 9 ? ['pif4', 'pif5', 'taa1'] : datum.value == 11 ? ['hfr1', 'taa1'] : ['pif4', 'pif5', 'hfr1']",
        "labelFontSize": 22, "labelFontStyle": {"condition": {"test": "datum.value == 1", "value": "normal"}, "value": "italic"}, "labelBaseline": "top", "labelLineHeight": 25, "labelPadding": 15, "labelOverlap": false, "labelFlush": false, "labelBound": false, "tickSize": -6, "domain": true, "title": null}},
     "x2": {"field": "x2"},
     "y": {"field": "top", "type": "quantitative", "scale": {"domain": [-0.5, 9.02], "nice": false, "zero": false},
       "axis": {"orient": "left", "values": [0,1,2,3,4,5,6,7,8,9], "format": "d", "labelFontSize": 23, "labelPadding": 22, "tickSize": -6, "domain": true, "title": "Seedling elongation (mm)", "titleFontSize": 23, "titleFontWeight": "normal", "titlePadding": 27, "labelFlush": false, "labelOverlap": false}},
     "y2": {"datum": -0.5}
    }},
   {"data": {"name": "boxes"}, "mark": {"type": "rule", "strokeWidth": 1.5},
    "encoding": {"x": {"field": "pos", "type": "quantitative", "scale": {"domain": [-0.5, 14.5]}, "axis": null},
     "y": {"field": "lo", "type": "quantitative", "scale": {"domain": [-0.5, 9.02]}, "axis": null}, "y2": {"field": "hi"},
     "color": {"field": "cond", "type": "nominal", "scale": {"domain": ["W","S"], "range": ["#000000","#6a6a6a"]}, "legend": null}}},
   {"data": {"name": "boxes"}, "mark": {"type": "bar", "size": 23, "strokeWidth": 1.5},
    "encoding": {"x": {"field": "pos", "type": "quantitative", "scale": {"domain": [-0.5, 14.5]}, "axis": null},
     "y": {"field": "q1", "type": "quantitative", "scale": {"domain": [-0.5, 9.02]}, "axis": null}, "y2": {"field": "q3"},
     "fill": {"field": "cond", "type": "nominal", "scale": {"domain": ["W","S"], "range": ["#ffffff","#dedede"]}, "legend": null},
     "stroke": {"field": "cond", "type": "nominal", "scale": {"domain": ["W","S"], "range": ["#000000","#6a6a6a"]}, "legend": null}}},
   {"data": {"name": "boxes"}, "mark": {"type": "tick", "orient": "horizontal", "size": 23, "thickness": 1.5, "opacity": 1},
    "encoding": {"x": {"field": "pos", "type": "quantitative", "scale": {"domain": [-0.5, 14.5]}, "axis": null},
     "y": {"field": "med", "type": "quantitative", "scale": {"domain": [-0.5, 9.02]}, "axis": null},
     "color": {"field": "cond", "type": "nominal", "scale": {"domain": ["W","S"], "range": ["#000000","#6a6a6a"]}, "legend": null}}},
   {"data": {"name": "boxes"}, "mark": {"type": "tick", "orient": "horizontal", "size": 13, "thickness": 1.5, "opacity": 1},
    "encoding": {"x": {"field": "pos", "type": "quantitative", "scale": {"domain": [-0.5, 14.5]}, "axis": null},
     "y": {"field": "lo", "type": "quantitative", "scale": {"domain": [-0.5, 9.02]}, "axis": null},
     "color": {"field": "cond", "type": "nominal", "scale": {"domain": ["W","S"], "range": ["#000000","#6a6a6a"]}, "legend": null}}},
   {"data": {"name": "boxes"}, "mark": {"type": "tick", "orient": "horizontal", "size": 13, "thickness": 1.5, "opacity": 1},
    "encoding": {"x": {"field": "pos", "type": "quantitative", "scale": {"domain": [-0.5, 14.5]}, "axis": null},
     "y": {"field": "hi", "type": "quantitative", "scale": {"domain": [-0.5, 9.02]}, "axis": null},
     "color": {"field": "cond", "type": "nominal", "scale": {"domain": ["W","S"], "range": ["#000000","#6a6a6a"]}, "legend": null}}},
   {"data": {"name": "pts"}, "transform": [{"filter": "datum.panel=='C'"}],
    "mark": {"type": "circle", "size": 140, "fill": "#3f51a3", "stroke": "#1f2b6b", "strokeWidth": 1.2, "opacity": 1},
    "encoding": {"x": {"field": "pos", "type": "quantitative", "scale": {"domain": [-0.5, 14.5]}, "axis": null},
     "y": {"field": "v", "type": "quantitative", "scale": {"domain": [-0.5, 9.02]}, "axis": null}}},
   {"data": {"name": "segs"}, "transform": [{"filter": "datum.panel=='C'"}],
    "mark": {"type": "rule", "strokeWidth": 1.8},
    "encoding": {"x": {"field": "x", "type": "quantitative", "scale": {"domain": [-0.5, 14.5]},
       "axis": {"orient": "top", "values": [1,3,5,7,9,11,13], "labels": false, "tickSize": -6, "domain": true, "title": null}},
     "x2": {"field": "x2"},
     "y": {"field": "y", "type": "quantitative", "scale": {"domain": [-0.5, 9.02]},
       "axis": {"orient": "right", "values": [0,1,2,3,4,5,6,7,8,9], "labels": false, "tickSize": -6, "domain": true, "title": null}},
     "y2": {"field": "y2"},
     "color": {"field": "kind", "type": "nominal", "scale": {"domain": ["k","o","g"], "range": ["#000000","#e08a2b","#6cb13a"]}, "legend": null}}},
   {"data": {"name": "heads"}, "transform": [{"filter": "datum.panel=='C' && datum.dir=='r'"}],
    "mark": {"type": "point", "shape": "M-1,-0.45L0,0L-1,0.45Z", "filled": true, "size": 300, "opacity": 1},
    "encoding": {"x": {"field": "x", "type": "quantitative", "scale": {"domain": [-0.5, 14.5]}, "axis": null},
     "y": {"field": "y", "type": "quantitative", "scale": {"domain": [-0.5, 9.02]}, "axis": null},
     "color": {"field": "kind", "type": "nominal", "scale": {"domain": ["k","o","g"], "range": ["#000000","#e08a2b","#6cb13a"]}, "legend": null}}},
   {"data": {"name": "heads"}, "transform": [{"filter": "datum.panel=='C' && datum.dir=='d'"}],
    "mark": {"type": "point", "shape": "M-0.45,-1L0,0L0.45,-1Z", "filled": true, "size": 300, "opacity": 1},
    "encoding": {"x": {"field": "x", "type": "quantitative", "scale": {"domain": [-0.5, 14.5]}, "axis": null},
     "y": {"field": "y", "type": "quantitative", "scale": {"domain": [-0.5, 9.02]}, "axis": null},
     "color": {"field": "kind", "type": "nominal", "scale": {"domain": ["k","o","g"], "range": ["#000000","#e08a2b","#6cb13a"]}, "legend": null}}},
   {"data": {"name": "texts"}, "transform": [{"filter": "datum.panel=='C'"}],
    "mark": {"type": "text", "fontSize": 19, "align": "center", "baseline": "alphabetic", "color": "#000"},
    "encoding": {"x": {"field": "x", "type": "quantitative", "scale": {"domain": [-0.5, 14.5]}, "axis": null},
     "y": {"field": "y", "type": "quantitative", "scale": {"domain": [-0.5, 9.02]}, "axis": null},
     "text": {"field": "label"}}},
   {"data": {"values": [{}]},
    "mark": {"type": "text", "fontSize": 21, "fontWeight": "bold", "align": "right", "baseline": "alphabetic", "color": "#c0272d"},
    "encoding": {"x": {"datum": 14.09, "type": "quantitative", "scale": {"domain": [-0.5, 14.5]}, "axis": null},
     "y": {"datum": 8.58, "type": "quantitative", "scale": {"domain": [-0.5, 9.02]}, "axis": null},
     "text": {"value": "9.0"}}},
   {"data": {"values": [{}]},
    "mark": {"type": "text", "fontSize": 34, "align": "left", "baseline": "alphabetic", "color": "#000"},
    "encoding": {"x": {"datum": -2.37, "type": "quantitative", "scale": {"domain": [-0.5, 14.5]}, "axis": null},
     "y": {"datum": 8.70, "type": "quantitative", "scale": {"domain": [-0.5, 9.02]}, "axis": null},
     "text": {"value": "C"}}}
  ]
 }
]
}
